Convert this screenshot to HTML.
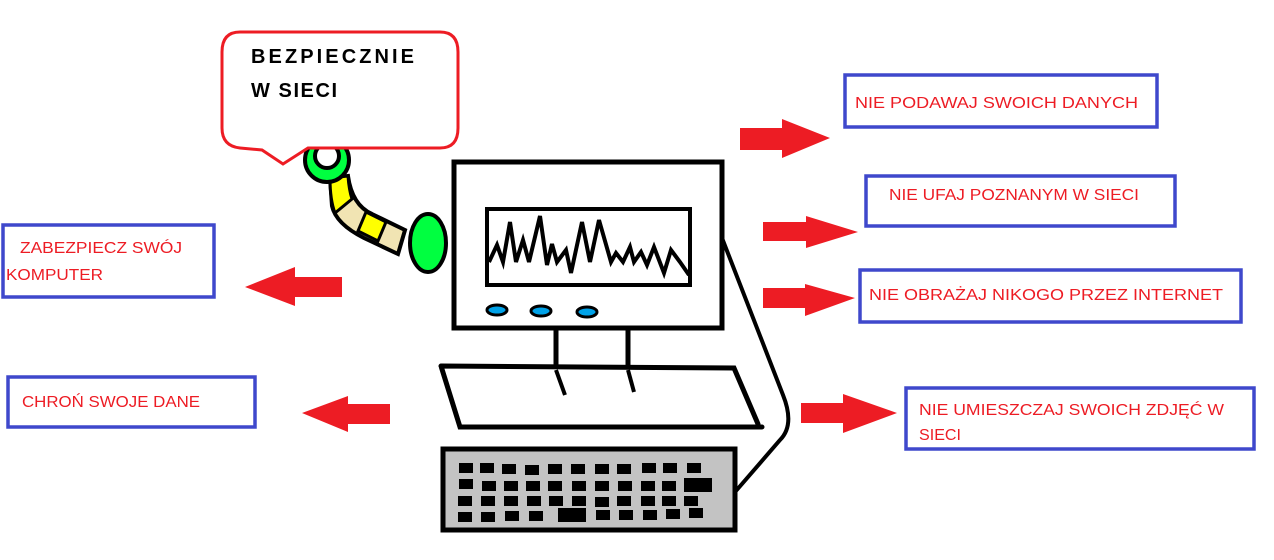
<!DOCTYPE html>
<html><head><meta charset="utf-8"><style>
html,body{margin:0;padding:0;background:#fff;width:1274px;height:560px;overflow:hidden}
svg text{font-family:"Liberation Sans",sans-serif}
</style></head><body>
<svg width="1274" height="560" viewBox="0 0 1274 560" xmlns="http://www.w3.org/2000/svg">
<rect width="1274" height="560" fill="#fff"/>
<!-- ring & arm -->
<path d="M330 178 L348 176 Q352 205 372 214 L405 230 L398 254 L364 238 Q336 224 332 206 Z" fill="#f1e4b3" stroke="#000" stroke-width="4"/>
<path d="M330 178 L348 176 Q349 190 352 199 L335 213 Q330 200 330 178 Z" fill="#ffff00" stroke="#000" stroke-width="3"/>
<path d="M366 212 L386 222 L378 241 L358 231 Z" fill="#ffff00" stroke="#000" stroke-width="3"/>
<circle cx="327" cy="160" r="22" fill="#00ff40" stroke="#000" stroke-width="4"/>
<circle cx="327" cy="156" r="12" fill="#fff" stroke="#000" stroke-width="4"/>
<ellipse cx="428" cy="243" rx="18" ry="29" fill="#00ff40" stroke="#000" stroke-width="4"/>
<!-- bubble -->
<path d="M240 32 L440 32 Q458 32 458 52 L458 128 Q458 148 440 148 L308 148 L283 164 L262 150 L240 148 Q222 146 222 128 L222 52 Q222 32 240 32 Z" fill="#fff" stroke="#ed1c24" stroke-width="3"/>
<text x="251" y="63" font-size="20" fill="#000" textLength="163" font-weight="bold">BEZPIECZNIE</text>
<text x="251" y="97" font-size="20" fill="#000" textLength="86" font-weight="bold">W SIECI</text>
<!-- monitor -->
<rect x="454" y="162" width="268" height="166" fill="#fff" stroke="#000" stroke-width="5"/>
<rect x="487" y="209" width="203" height="76" fill="#fff" stroke="#000" stroke-width="4"/>
<polyline points="489,262 497,245 503,262 510,222 516,262 523,240 529,262 540,216 547,265 552,244 557,262 566,250 571,273 582,222 590,262 599,220 611,262 616,253 623,262 630,247 634,262 641,252 647,265 654,247 664,273 671,250 680,262 689,275" fill="none" stroke="#000" stroke-width="4" stroke-linejoin="miter"/>
<ellipse cx="497" cy="310" rx="10" ry="5" fill="#00a2e8" stroke="#000" stroke-width="3"/>
<ellipse cx="541" cy="311" rx="10" ry="5" fill="#00a2e8" stroke="#000" stroke-width="3"/>
<ellipse cx="587" cy="312" rx="10" ry="5" fill="#00a2e8" stroke="#000" stroke-width="3"/>
<!-- stand / tray -->
<line x1="556" y1="328" x2="556" y2="368" stroke="#000" stroke-width="5"/>
<line x1="628" y1="328" x2="628" y2="368" stroke="#000" stroke-width="5"/>
<path d="M441 366 L734 368 L758 424 M441 366 L460 427 L762 427" fill="none" stroke="#000" stroke-width="5" stroke-linecap="round"/>
<line x1="556" y1="370" x2="565" y2="395" stroke="#000" stroke-width="4"/>
<line x1="628" y1="370" x2="634" y2="392" stroke="#000" stroke-width="4"/>
<!-- cable -->
<path d="M722 238 L783 395 Q795 425 780 440 L735 492" fill="none" stroke="#000" stroke-width="4"/>
<!-- keyboard -->
<rect x="443" y="449" width="292" height="81" fill="#c3c3c3" stroke="#000" stroke-width="5"/>
<g fill="#000">
<rect x="459" y="463" width="14" height="10"/><rect x="480" y="463" width="14" height="10"/><rect x="502" y="464" width="14" height="10"/><rect x="525" y="465" width="14" height="10"/><rect x="548" y="464" width="14" height="10"/><rect x="571" y="464" width="14" height="10"/><rect x="595" y="464" width="14" height="10"/><rect x="617" y="464" width="14" height="10"/><rect x="642" y="463" width="14" height="10"/><rect x="663" y="463" width="14" height="10"/><rect x="687" y="463" width="14" height="10"/>
<rect x="459" y="479" width="14" height="10"/><rect x="482" y="481" width="14" height="10"/><rect x="504" y="481" width="14" height="10"/><rect x="526" y="481" width="14" height="10"/><rect x="548" y="481" width="14" height="10"/><rect x="572" y="481" width="14" height="10"/><rect x="595" y="481" width="14" height="10"/><rect x="618" y="481" width="14" height="10"/><rect x="641" y="481" width="14" height="10"/><rect x="662" y="481" width="14" height="10"/><rect x="684" y="478" width="28" height="14"/>
<rect x="458" y="496" width="14" height="10"/><rect x="481" y="496" width="14" height="10"/><rect x="504" y="496" width="14" height="10"/><rect x="527" y="496" width="14" height="10"/><rect x="549" y="496" width="14" height="10"/><rect x="572" y="496" width="14" height="10"/><rect x="595" y="497" width="14" height="10"/><rect x="617" y="496" width="14" height="10"/><rect x="641" y="496" width="14" height="10"/><rect x="662" y="496" width="14" height="10"/><rect x="684" y="496" width="14" height="10"/>
<rect x="458" y="512" width="14" height="10"/><rect x="481" y="512" width="14" height="10"/><rect x="505" y="511" width="14" height="10"/><rect x="529" y="511" width="14" height="10"/><rect x="558" y="508" width="28" height="14"/><rect x="596" y="510" width="14" height="10"/><rect x="619" y="510" width="14" height="10"/><rect x="643" y="510" width="14" height="10"/><rect x="666" y="509" width="14" height="10"/><rect x="689" y="508" width="14" height="10"/>
</g>
<!-- boxes -->
<g fill="#fff" stroke="#3f48cc" stroke-width="3.5">
<rect x="845" y="75" width="312" height="52"/>
<rect x="866" y="176" width="309" height="50"/>
<rect x="860" y="270" width="381" height="52"/>
<rect x="906" y="388" width="348" height="61"/>
<rect x="3" y="225" width="211" height="72"/>
<rect x="8" y="377" width="247" height="50"/>
</g>
<g fill="#ed1c24" font-size="16" lengthAdjust="spacingAndGlyphs">
<text x="855" y="108" textLength="283" lengthAdjust="spacingAndGlyphs">NIE PODAWAJ SWOICH DANYCH</text>
<text x="889" y="200" textLength="250" lengthAdjust="spacingAndGlyphs">NIE UFAJ POZNANYM W SIECI</text>
<text x="869" y="300" textLength="354" lengthAdjust="spacingAndGlyphs">NIE OBRAŻAJ NIKOGO PRZEZ INTERNET</text>
<text x="919" y="415" textLength="305" lengthAdjust="spacingAndGlyphs">NIE UMIESZCZAJ SWOICH ZDJĘĆ  W</text>
<text x="919" y="440" textLength="42" lengthAdjust="spacingAndGlyphs">SIECI</text>
<text x="20" y="253" textLength="162" lengthAdjust="spacingAndGlyphs">ZABEZPIECZ SWÓJ</text>
<text x="6" y="280" textLength="97" lengthAdjust="spacingAndGlyphs">KOMPUTER</text>
<text x="22" y="407" textLength="178" lengthAdjust="spacingAndGlyphs">CHROŃ SWOJE DANE</text>
</g>
<!-- arrows -->
<g fill="#ed1c24">
<path d="M740 128 L782 128 L782 119 L830 138 L782 158 L782 150 L740 150 Z"/>
<path d="M763 222 L806 222 L806 216 L858 232 L806 248 L806 241 L763 241 Z"/>
<path d="M763 288 L805 288 L805 284 L855 298 L805 316 L805 308 L763 308 Z"/>
<path d="M801 403 L843 403 L843 394 L897 413 L843 433 L843 423 L801 423 Z"/>
<path d="M342 277 L295 277 L295 267 L245 287 L295 306 L295 297 L342 297 Z"/>
<path d="M390 404 L348 404 L348 396 L302 413 L348 432 L348 424 L390 424 Z"/>
</g>
</svg>
</body></html>
